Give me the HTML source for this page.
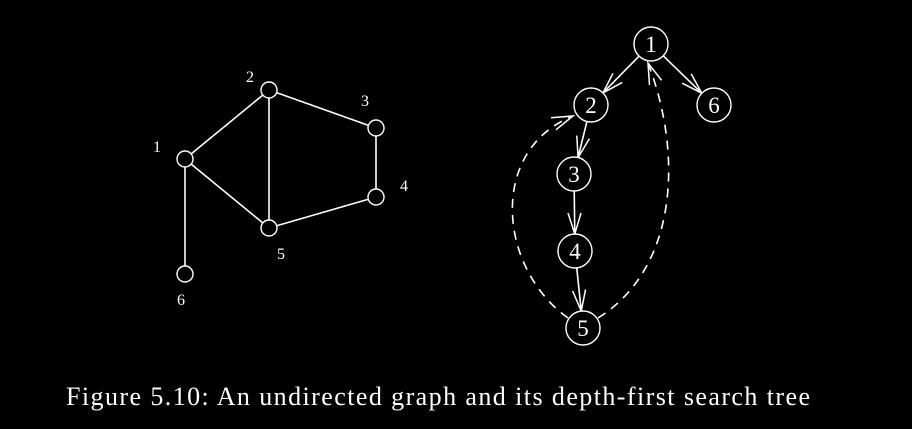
<!DOCTYPE html>
<html><head><meta charset="utf-8"><style>
html,body{margin:0;padding:0;background:#000;}
svg{display:block;}
text{font-family:"Liberation Serif",serif;fill:#fff;}
</style></head><body>
<svg width="912" height="429" viewBox="0 0 912 429">
<g id="left"></g>
<g id="right"></g>
<text x="66" y="405" font-size="26" textLength="744" lengthAdjust="spacing">Figure 5.10: An undirected graph and its depth-first search tree</text>
</svg>
<script>
const gNodes = ["1","2","3","4","5","6"];
const gX = [185,269,376,376,269,185];
const gY = [159,90,128,197,228,274];
const gLabelX = [157,250,365,404,281,181];
const gLabelY = [152,82,106,191,259,305];
const gEdges = [[0,1],[0,4],[0,5],[1,2],[1,4],[2,3],[3,4]];

const tX = [651,591,574,575,583,714];
const tY = [44,105,174,251,328,105];
const treeEdges = [[0,1],[0,5],[1,2],[2,3],[3,4]];
const backEdges = [[4,1],[4,0]];

const NS="http://www.w3.org/2000/svg";
function mk(tag,attrs,parent){const e=document.createElementNS(NS,tag);for(const k in attrs)e.setAttribute(k,attrs[k]);parent.appendChild(e);return e;}
const L=document.getElementById('left'), R=document.getElementById('right');

gEdges.forEach(([a,b])=>{
  const dx=gX[b]-gX[a],dy=gY[b]-gY[a],d=Math.hypot(dx,dy),r=8;
  const e=mk('line',{x1:gX[a]+dx/d*r,y1:gY[a]+dy/d*r,x2:gX[b]-dx/d*r,y2:gY[b]-dy/d*r,stroke:'#fff','stroke-width':1.6},L);
  
  
});
gNodes.forEach((n,i)=>{
  const c=mk('circle',{cx:gX[i],cy:gY[i],r:8,fill:'none',stroke:'#fff','stroke-width':1.4},L);
  
  
  const t=mk('text',{x:gLabelX[i],y:gLabelY[i],'font-size':16,'text-anchor':'middle'},L);
  t.textContent=n;
  
  
});

function arrowHead(x,y,ux,uy,parent){
  const len=22,ang=0.3,pts=[];
  [ang,-ang].forEach(a=>{
    const c=Math.cos(a),s=Math.sin(a);
    const vx=-(ux*c-uy*s),vy=-(ux*s+uy*c);
    pts.push([x+vx*len,y+vy*len]);
  });
  const p=mk('path',{d:`M${pts[0][0]},${pts[0][1]} L${x},${y} L${pts[1][0]},${pts[1][1]}`,fill:'none',stroke:'#fff','stroke-width':1.5},parent);
  
  
}
const TR=17;
treeEdges.forEach(([a,b])=>{
  const dx=tX[b]-tX[a],dy=tY[b]-tY[a],d=Math.hypot(dx,dy),ux=dx/d,uy=dy/d;
  const x1=tX[a]+ux*TR,y1=tY[a]+uy*TR,x2=tX[b]-ux*TR,y2=tY[b]-uy*TR;
  const e=mk('line',{x1,y1,x2,y2,stroke:'#fff','stroke-width':1.6},R);
  
  
  arrowHead(x2,y2,ux,uy,R);
});
backEdges.forEach(([a,b])=>{
  const side = b!==0 ? -1 : 1;
  const sx=tX[a]+side*15, sy=tY[a]-10;
  const ex=tX[b]+(side<0?-18:-3), ey=tY[b]+(side<0?11:19);
  const c1x=side<0?tX[a]-85:tX[a]+95, c1y=tY[a]-60;
  const c2x=side<0?tX[a]-95:tX[a]+100, c2y=side<0?tY[b]+45:tY[b]+110;
  const p=mk('path',{d:`M${sx},${sy} C${c1x},${c1y} ${c2x},${c2y} ${ex},${ey}`,fill:'none',stroke:'#fff','stroke-width':1.6,'stroke-dasharray':'9,7'},R);
  
  
  const dx=ex-c2x,dy=ey-c2y,d=Math.hypot(dx,dy);
  arrowHead(ex,ey,dx/d,dy/d,R);
});
gNodes.forEach((n,i)=>{
  const c=mk('circle',{cx:tX[i],cy:tY[i],r:TR,fill:'#000',stroke:'#fff','stroke-width':1.4},R);
  
  
  const t=mk('text',{x:tX[i],y:tY[i]+8,'font-size':23,'text-anchor':'middle'},R);
  t.textContent=n;
  
  
});
</script>
</body></html>
